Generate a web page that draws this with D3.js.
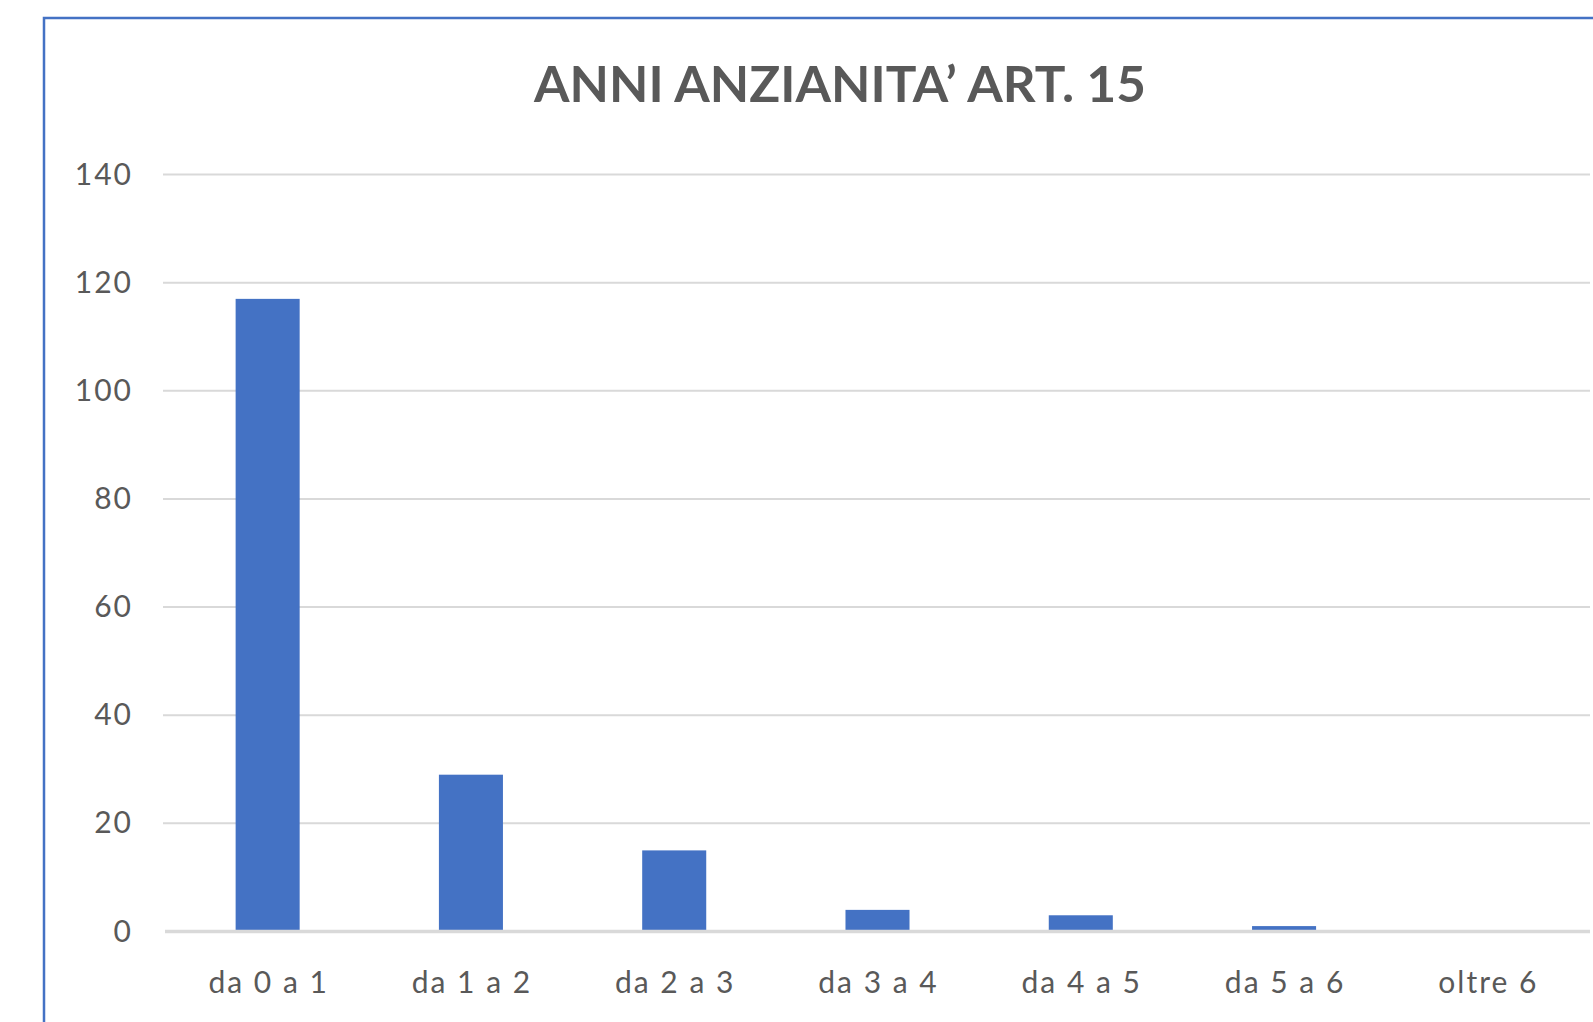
<!DOCTYPE html>
<html>
<head>
<meta charset="utf-8">
<script src="https://cdn.jsdelivr.net/npm/d3@7"></script>
<style>
  body { margin: 0; background: #fff; }
  text { font-family: Lato, "Open Sans", sans-serif; fill: #595959; }
</style>
</head>
<body>
<div class="drawBoard"></div>
<script>
// data
const categories = ['da 0 a 1', 'da 1 a 2', 'da 2 a 3', 'da 3 a 4', 'da 4 a 5', 'da 5 a 6', 'oltre 6'];
const values = [117, 29, 15, 4, 3, 1, 0];
const yTicks = [0, 20, 40, 60, 80, 100, 120, 140];
const title = 'ANNI ANZIANITA\u2019 ART. 15';

const W = 1593, H = 1022;
const svg = d3.select('.drawBoard').append('svg')
  .attr('width', W)
  .attr('height', H);

// chart frame (runs off the right and bottom of the picture)
svg.append('rect')
  .attr('x', 44).attr('y', 18)
  .attr('width', 1600).attr('height', 1100)
  .attr('fill', 'none')
  .attr('stroke', '#4472c4')
  .attr('stroke-width', 2.5);

// title
svg.append('text')
  .text(title)
  .attr('x', 840).attr('y', 102)
  .attr('text-anchor', 'middle')
  .attr('font-size', 50)
  .attr('font-weight', 'bold')
  .attr('textLength', 612)
  .attr('lengthAdjust', 'spacingAndGlyphs');

// scales
const x = d3.scaleBand()
  .domain(categories)
  .range([166, 1589])
  .paddingInner(0.685)
  .paddingOuter(0.3425);

const y = d3.scaleLinear()
  .domain([0, 140])
  .range([931.5, 174.5]);

// gridlines
svg.append('g')
  .selectAll('line')
  .data(yTicks.filter(d => d > 0))
  .join('line')
  .attr('x1', 163).attr('x2', 1590)
  .attr('y1', d => y(d)).attr('y2', d => y(d))
  .attr('stroke', '#d9d9d9')
  .attr('stroke-width', 2);

// y axis labels
const yAxis = svg.append('g')
  .attr('transform', 'translate(133,0)')
  .call(d3.axisLeft(y).tickValues(yTicks).tickSize(0).tickPadding(0));
yAxis.select('.domain').remove();
yAxis.selectAll('text')
  .attr('font-size', 30)
  .attr('letter-spacing', 2)
  .attr('font-family', 'Lato, sans-serif')
  .attr('fill', '#505050');

// bars
svg.append('g')
  .selectAll('rect')
  .data(values)
  .join('rect')
  .attr('x', (d, i) => x(categories[i]))
  .attr('y', d => y(d))
  .attr('width', x.bandwidth())
  .attr('height', d => y(0) - y(d))
  .attr('fill', '#4472c4');

// category axis line
svg.append('line')
  .attr('x1', 165).attr('x2', 1590)
  .attr('y1', y(0)).attr('y2', y(0))
  .attr('stroke', '#d9d9d9')
  .attr('stroke-width', 3.5);

// x axis labels
const xAxis = svg.append('g')
  .attr('transform', 'translate(1,' + (y(0) + 40) + ')')
  .call(d3.axisBottom(x).tickSize(0).tickPadding(0));
xAxis.select('.domain').remove();
xAxis.selectAll('text')
  .attr('font-size', 30)
  .attr('letter-spacing', 2)
  .attr('font-family', 'Lato, sans-serif')
  .attr('fill', '#505050')
  .attr('dy', '0.71em');
</script>
</body>
</html>
